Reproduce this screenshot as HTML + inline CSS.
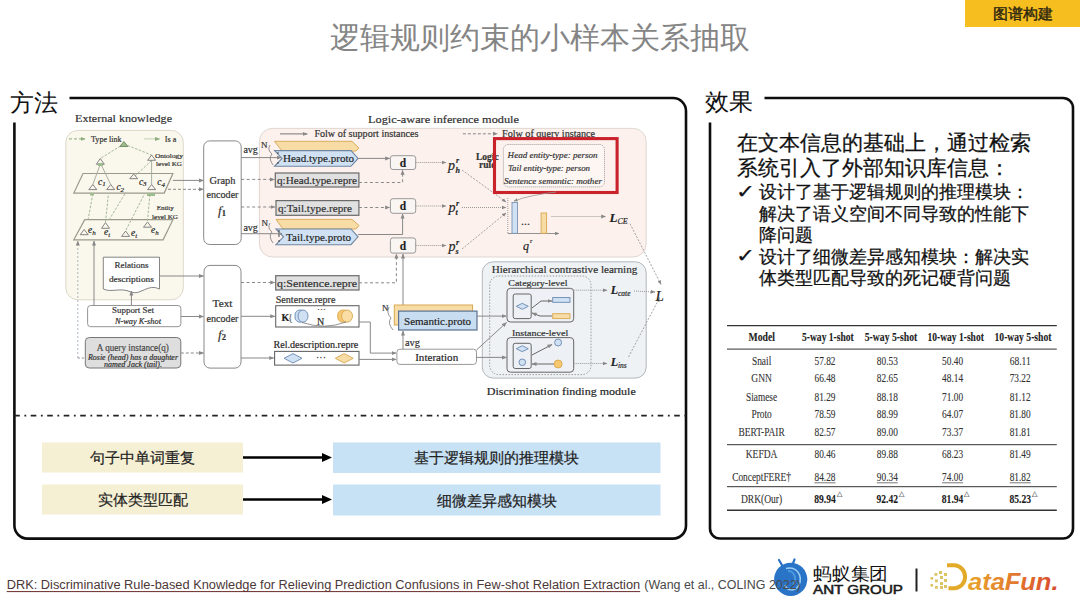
<!DOCTYPE html>
<html><head><meta charset="utf-8">
<style>
html,body{margin:0;padding:0;}
body{width:1080px;height:608px;overflow:hidden;background:#fff;position:relative;font-family:"Liberation Sans",sans-serif;}
.a{position:absolute;white-space:nowrap;}
#title{left:330px;top:20.5px;font-size:30px;line-height:34px;color:#858585;letter-spacing:0px;}
#tag{left:965.3px;top:0;width:115px;height:27.3px;background:#F6BE1E;}
#tagt{left:993px;top:4px;font-size:15px;line-height:20px;color:#2b2510;-webkit-text-stroke:0.4px #2b2510;}
.lbl{font-size:24px;line-height:28px;color:#111;}
.bx{position:absolute;text-align:center;font-size:15px;color:#222;-webkit-text-stroke:0.2px #222;}
.rt{font-size:21px;line-height:25.5px;color:#111;-webkit-text-stroke:0.25px #111;}
.rb{font-size:18px;line-height:21.5px;color:#111;-webkit-text-stroke:0.25px #111;}
.dg text{stroke:#2a2a2a;stroke-width:0.18px;}
.tb text{stroke:#2a2a2a;stroke-width:0.12px;}
</style></head><body>
<div id="title" class="a">逻辑规则约束的小样本关系抽取</div>
<div id="tag" class="a"></div>
<div id="tagt" class="a">图谱构建</div>

<svg class="a" style="left:0;top:0" width="1080" height="608" viewBox="0 0 1080 608">
 <g fill="none" stroke="#0d0d0d" stroke-width="2.6">
  <path d="M69.5 98 H673 A13 13 0 0 1 686 111 V525.5 A13 13 0 0 1 673 538.6 H27.5 A13 13 0 0 1 14.4 525.5 V122.5"/>
  <path d="M764.5 98 H1063 A10 10 0 0 1 1073 108 V528.5 A10 10 0 0 1 1063 538.5 H720 A10 10 0 0 1 710 528.5 V122.5"/>
 </g>
 <line x1="14.2" y1="415.6" x2="686" y2="415.6" stroke="#222" stroke-width="1.8" stroke-dasharray="5.6 4.6 1.8 4.5"/>
 <!-- bottom boxes -->
 <rect x="42" y="442.5" width="201" height="30" fill="#F5EFD3"/>
 <rect x="42" y="484.5" width="201" height="30" fill="#F5EFD3"/>
 <rect x="333" y="442.5" width="327.5" height="30.5" fill="#C7E1F5"/>
 <rect x="333" y="484.5" width="327.5" height="31" fill="#C7E1F5"/>
 <g stroke="#000" stroke-width="2.6">
  <line x1="243" y1="457.5" x2="324" y2="457.5"/>
  <line x1="243" y1="499.5" x2="324" y2="499.5"/>
 </g>
 <path d="M322 453 L332 457.5 L322 462 Z M322 495 L332 499.5 L322 504 Z" fill="#000"/>
</svg>


<svg class="a dg" style="left:0;top:0" width="1080" height="608" viewBox="0 0 1080 608" font-family="Liberation Serif, serif">
 <defs>
  <marker id="ah" viewBox="0 0 10 10" refX="9" refY="5" markerWidth="5" markerHeight="5" orient="auto"><path d="M0 1 L10 5 L0 9 Z" fill="#888"/></marker>
  <marker id="ahg" viewBox="0 0 10 10" refX="9" refY="5" markerWidth="5" markerHeight="5" orient="auto"><path d="M0 1 L10 5 L0 9 Z" fill="#8aab7a"/></marker>
 </defs>
 <!-- External knowledge -->
 <text x="75" y="122.3" font-size="11" fill="#333" textLength="97" lengthAdjust="spacingAndGlyphs">External knowledge</text>
 <rect x="65.8" y="130.4" width="117.5" height="169.4" rx="12" fill="#FAF7EC" stroke="#d9d4c4" stroke-width="0.9"/>
 <g stroke="#8aab7a" stroke-width="1" fill="none">
  <line x1="69" y1="138.9" x2="85" y2="138.9" stroke-dasharray="3 2" marker-end="url(#ahg)"/>
  <line x1="144.5" y1="138.9" x2="159.5" y2="138.9" stroke-dasharray="1 1" marker-end="url(#ahg)"/>
 </g>
 <text x="91" y="141.8" font-size="8" fill="#333" textLength="30.5" lengthAdjust="spacingAndGlyphs">Type link</text>
 <text x="164.8" y="141.8" font-size="8" fill="#333" textLength="11.5" lengthAdjust="spacingAndGlyphs">Is a</text>
 <text x="155" y="158" font-size="6.5" fill="#333" textLength="28" lengthAdjust="spacingAndGlyphs">Ontology</text>
 <text x="156" y="166" font-size="6.5" fill="#333" textLength="26" lengthAdjust="spacingAndGlyphs">level KG</text>
 <text x="156.7" y="209.9" font-size="6.5" fill="#333" textLength="17" lengthAdjust="spacingAndGlyphs">Entity</text>
 <text x="152" y="218.5" font-size="6.5" fill="#333" textLength="26" lengthAdjust="spacingAndGlyphs">level KG</text>
 <g fill="none" stroke="#9a9a8a" stroke-width="1.2">
  <path d="M83 173.5 H172.9 L164.2 193.1 H73.8 Z"/>
  <path d="M84.7 219.7 H172.9 L163.1 239.8 H73.8 Z"/>
 </g>
 <g fill="none" stroke="#a3b899" stroke-width="1" stroke-dasharray="2.5 1.5">
  <line x1="123.9" y1="144" x2="100.3" y2="158.5"/>
  <line x1="123.9" y1="144" x2="151.6" y2="155"/>
  <line x1="135" y1="176" x2="151" y2="161"/>
  <line x1="88" y1="220" x2="93" y2="193"/>
  <line x1="105.5" y1="222" x2="108.5" y2="193"/>
  <line x1="109" y1="220" x2="126" y2="192"/>
  <line x1="126" y1="230" x2="145" y2="193"/>
  <line x1="147.5" y1="221" x2="150" y2="193"/>
  <line x1="77.8" y1="358" x2="77.8" y2="241" stroke="#b0b8c4" stroke-dasharray="2 2" marker-end="url(#ah)"/>
 </g>
 <g fill="none" stroke="#a0a89a" stroke-width="0.9">
  <line x1="92.8" y1="184.5" x2="100.3" y2="164.3"/>
  <line x1="110.7" y1="184.5" x2="101" y2="164.3"/>
  <line x1="151.6" y1="184.5" x2="151.6" y2="160.3"/>
 </g>
 <g fill="none" stroke="#777" stroke-width="0.9">
  <path d="M119.9 146.5 L123.9 141.5 L127.9 146.5 Z" fill="#9dbb8f" stroke="#6d8a60"/>
  <path d="M96.3 164.3 L100.3 158.5 L104.3 164.3 Z"/>
  <path d="M147.6 160.3 L151.6 155 L155.6 160.3 Z"/>
  <path d="M88.8 189.6 L92.8 184.5 L96.8 189.6 Z"/>
  <path d="M106.7 189.6 L110.7 184.5 L114.7 189.6 Z"/>
  <path d="M129.7 178.7 L133.7 174 L137.7 178.7 Z"/>
  <path d="M147.6 189.6 L151.6 184.5 L155.6 189.6 Z"/>
  <path d="M80.2 234.7 L84.2 229.5 L88.2 234.7 Z"/>
  <path d="M101.5 228.3 L105.5 222.6 L109.5 228.3 Z"/>
  <path d="M121.6 236.4 L125.6 231 L129.6 236.4 Z"/>
  <path d="M143.5 227.2 L147.5 222 L151.5 227.2 Z"/>
 </g>
 <rect x="98" y="163" width="5" height="3" fill="#9dbb8f"/>
 <rect x="90" y="193" width="4" height="2.5" fill="#9dbb8f"/>
 <rect x="147" y="193" width="8" height="3" fill="#9dbb8f"/>
 <g font-size="9.5" font-style="italic" fill="#222">
  <text x="98" y="184.5">c<tspan font-size="7" dy="1.5">1</tspan></text>
  <text x="116.4" y="190">c<tspan font-size="7" dy="1.5">2</tspan></text>
  <text x="138.9" y="184.5">c<tspan font-size="7" dy="1.5">3</tspan></text>
  <text x="157.3" y="185">c<tspan font-size="7" dy="1.5">4</tspan></text>
  <text x="88" y="233">e<tspan font-size="7" dy="1.5">h</tspan></text>
  <text x="104" y="235">e<tspan font-size="7" dy="1.5">t</tspan></text>
  <text x="131" y="236">e<tspan font-size="7" dy="1.5">t</tspan></text>
  <text x="151" y="233">e<tspan font-size="7" dy="1.5">h</tspan></text>
 </g>
 <!-- relations descriptions -->
 <path d="M103.3 257.2 H159.5 V289 C148 283 140 296 131 292 C120 287 112 293 103.3 289 Z" fill="#fff" stroke="#777" stroke-width="0.9"/>
 <text x="131.4" y="268" font-size="8.5" fill="#333" text-anchor="middle" textLength="34" lengthAdjust="spacingAndGlyphs">Relations</text>
 <text x="131.4" y="282" font-size="8.5" fill="#333" text-anchor="middle" textLength="45" lengthAdjust="spacingAndGlyphs">descriptions</text>
 <!-- support set -->
 <rect x="87.6" y="305.5" width="93.3" height="21.2" rx="3" fill="#fff" stroke="#888" stroke-width="0.9"/>
 <text x="133" y="313" font-size="9" fill="#333" text-anchor="middle" textLength="42" lengthAdjust="spacingAndGlyphs">Support Set</text>
 <text x="138" y="323.5" font-size="7.5" font-style="italic" fill="#333" text-anchor="middle" textLength="46" lengthAdjust="spacingAndGlyphs">N-way K-shot</text>
 <!-- query -->
 <rect x="85.3" y="337.5" width="95.5" height="30.5" rx="4" fill="#dedede" stroke="#777" stroke-width="1"/>
 <text x="132.8" y="351" font-size="9.5" fill="#555" text-anchor="middle" textLength="72" lengthAdjust="spacingAndGlyphs">A query instance(q)</text>
 <text x="133" y="359.8" font-size="7.5" font-style="italic" fill="#333" text-anchor="middle" textLength="90" lengthAdjust="spacingAndGlyphs">Rosie (head) has a daughter</text>
 <text x="133" y="367" font-size="7.5" font-style="italic" fill="#333" text-anchor="middle" textLength="58" lengthAdjust="spacingAndGlyphs">named Jack (tail).</text>
 <g fill="none" stroke="#888" stroke-width="1">
  <line x1="94" y1="305.5" x2="94" y2="241" marker-end="url(#ah)"/>
  <line x1="131.4" y1="305.5" x2="131.4" y2="291" marker-end="url(#ah)"/>
  <line x1="172.9" y1="180.4" x2="203.5" y2="180.4" marker-end="url(#ah)"/>
  <line x1="168" y1="189.3" x2="203.5" y2="189.3" stroke-dasharray="3 2" marker-end="url(#ah)"/>
  <line x1="159.5" y1="276" x2="203.5" y2="276" marker-end="url(#ah)"/>
  <line x1="180.9" y1="316.5" x2="203.5" y2="316.5" marker-end="url(#ah)"/>
  <line x1="180.8" y1="353" x2="203.5" y2="353" stroke-dasharray="3 2" marker-end="url(#ah)"/>
  <line x1="77.8" y1="358" x2="85" y2="358" stroke-dasharray="2 2"/>
 </g>
 <!-- encoders -->
 <rect x="203.7" y="140.9" width="37.5" height="103.6" rx="6" fill="#fff" stroke="#888" stroke-width="1"/>
 <text x="222.5" y="184" font-size="9.5" fill="#333" text-anchor="middle" textLength="26" lengthAdjust="spacingAndGlyphs">Graph</text>
 <text x="222.5" y="198" font-size="9.5" fill="#333" text-anchor="middle" textLength="32" lengthAdjust="spacingAndGlyphs">encoder</text>
 <text x="218" y="214.5" font-size="13" font-style="italic" fill="#333">f<tspan font-size="8.5" dy="1.5" font-style="normal" font-weight="bold">1</tspan></text>
 <rect x="204" y="265.4" width="37" height="102.7" rx="6" fill="#fff" stroke="#888" stroke-width="1"/>
 <text x="222.5" y="307" font-size="9.5" fill="#333" text-anchor="middle" textLength="20" lengthAdjust="spacingAndGlyphs">Text</text>
 <text x="222.5" y="322" font-size="9.5" fill="#333" text-anchor="middle" textLength="32" lengthAdjust="spacingAndGlyphs">encoder</text>
 <text x="218" y="338.5" font-size="13" font-style="italic" fill="#333">f<tspan font-size="8.5" dy="1.5" font-style="normal" font-weight="bold">2</tspan></text>

 <!-- Logic-aware inference module -->
 <text x="368" y="122.5" font-size="10.5" fill="#333" textLength="151" lengthAdjust="spacingAndGlyphs">Logic-aware inference module</text>
 <rect x="259.4" y="128.4" width="386.8" height="128.6" rx="13" fill="#FCF1ED" stroke="#ddd2cc" stroke-width="0.9"/>
 <line x1="280" y1="133.9" x2="307.3" y2="133.9" stroke="#777" stroke-width="1" marker-end="url(#ah)"/>
 <text x="314.4" y="137" font-size="9.5" fill="#333" textLength="104" lengthAdjust="spacingAndGlyphs">Folw of support instances</text>
 <line x1="462.9" y1="133.8" x2="497.4" y2="133.8" stroke="#888" stroke-width="1" stroke-dasharray="3 2" marker-end="url(#ah)"/>
 <text x="502" y="137" font-size="9.5" fill="#333" textLength="93" lengthAdjust="spacingAndGlyphs">Folw of query instance</text>
 <!-- chevrons -->
 <path d="M274.5 141.3 H352 L359 148 L356 151 H282 Z" fill="#F7DCA6" stroke="#D9AE5E" stroke-width="1"/>
 <path d="M274.5 150.6 H351 L358.1 158.4 L351 166.3 H274.5 L282 158.4 Z" fill="#CFE1F3" stroke="#6F86A2" stroke-width="1.1"/>
 <text x="283" y="162" font-size="10.5" fill="#222" textLength="71" lengthAdjust="spacingAndGlyphs">Head.type.proto</text>
 <path d="M276 219.4 H352 L359 225.5 L356 229 H283 Z" fill="#F7DCA6" stroke="#D9AE5E" stroke-width="1"/>
 <path d="M276 229 H351 L358 236.8 L351 244.7 H276 L283.5 236.8 Z" fill="#CFE1F3" stroke="#6F86A2" stroke-width="1.1"/>
 <text x="286" y="240.5" font-size="10.5" fill="#222" textLength="65" lengthAdjust="spacingAndGlyphs">Tail.type.proto</text>
 <g font-size="9" fill="#333">
  <text x="261" y="148">N</text>
  <text x="261.5" y="226">N</text>
  <text x="382" y="311">N</text>
 </g>
 <g fill="none" stroke="#777" stroke-width="0.8">
  <path d="M270 145 Q267 150 272 154 Q268 158 273 165"/>
  <path d="M270 223 Q267 228 272 232 Q268 236 273 243"/>
  <path d="M389 307 Q386 313 391 318 Q387 323 393 330"/>
 </g>
 <g fill="#333"><circle cx="278" cy="153" r="0.8"/><circle cx="278" cy="158" r="0.8"/><circle cx="278" cy="163" r="0.8"/>
 <circle cx="279" cy="231" r="0.8"/><circle cx="279" cy="236" r="0.8"/><circle cx="279" cy="241" r="0.8"/></g>
 <!-- gray repre boxes -->
 <rect x="275.3" y="173" width="83.6" height="14" fill="#E0E0E0" stroke="#6a6a6a" stroke-width="1.2"/>
 <text x="277" y="184.3" font-size="10.5" fill="#333" textLength="80" lengthAdjust="spacingAndGlyphs">q:Head.type.repre</text>
 <rect x="276" y="200.6" width="82.9" height="14.7" fill="#E0E0E0" stroke="#6a6a6a" stroke-width="1.2"/>
 <text x="278" y="212.2" font-size="10.5" fill="#333" textLength="74" lengthAdjust="spacingAndGlyphs">q:Tail.type.repre</text>
 <rect x="275.7" y="275.7" width="83.3" height="14.3" fill="#E0E0E0" stroke="#6a6a6a" stroke-width="1.2"/>
 <text x="277" y="287.3" font-size="10.5" fill="#333" textLength="80" lengthAdjust="spacingAndGlyphs">q:Sentence.repre</text>
 <!-- avg arrows -->
 <g fill="none" stroke="#888" stroke-width="1">
  <line x1="241.2" y1="157.6" x2="281" y2="157.6" marker-end="url(#ah)"/>
  <line x1="241.2" y1="179.4" x2="274.5" y2="179.4" stroke-dasharray="3 2.5" marker-end="url(#ah)"/>
  <line x1="241.2" y1="207" x2="275" y2="207" stroke-dasharray="3 2.5" marker-end="url(#ah)"/>
  <line x1="241.2" y1="233.7" x2="282" y2="233.7" marker-end="url(#ah)"/>
  <line x1="241" y1="282.5" x2="274.8" y2="282.5" stroke-dasharray="3 2.5" marker-end="url(#ah)"/>
  <line x1="241" y1="316.3" x2="274.8" y2="316.3" marker-end="url(#ah)"/>
  <line x1="241" y1="358" x2="273.8" y2="358" marker-end="url(#ah)"/>
  <line x1="358.1" y1="158.4" x2="389.6" y2="158.4" marker-end="url(#ah)"/>
  <path d="M358.9 182.5 H402.6 V170.3" stroke-dasharray="3 2.5" marker-end="url(#ah)"/>
  <line x1="358.9" y1="207.5" x2="389.6" y2="207.5" stroke-dasharray="3 2.5" marker-end="url(#ah)"/>
  <path d="M358 234.5 H402.6 V214" marker-end="url(#ah)"/>
  <path d="M359 282.8 H396.4 V254" stroke-dasharray="3 2.5" marker-end="url(#ah)"/>
  <line x1="403" y1="305" x2="403" y2="254" marker-end="url(#ah)"/>
 </g>
 <g font-size="9.5" fill="#333">
  <text x="243.4" y="153.3" textLength="14.5" lengthAdjust="spacingAndGlyphs">avg</text>
  <text x="243.4" y="231" textLength="14.5" lengthAdjust="spacingAndGlyphs">avg</text>
  <text x="405" y="345.5" textLength="15" lengthAdjust="spacingAndGlyphs">avg</text>
 </g>
 <!-- d boxes -->
 <g fill="#f9f5f3" stroke="#999" stroke-width="1">
  <rect x="390.4" y="155.7" width="25.3" height="13.8" rx="2.5"/>
  <rect x="390.4" y="198.7" width="25.3" height="14.6" rx="2.5"/>
  <rect x="390.4" y="237.9" width="25.3" height="15.2" rx="2.5"/>
 </g>
 <g font-size="11.5" font-weight="bold" fill="#222" text-anchor="middle">
  <text x="403" y="166.5">d</text><text x="403" y="210">d</text><text x="403" y="249.5">d</text>
 </g>
 <g fill="none" stroke="#999" stroke-width="1" stroke-dasharray="1 1">
  <line x1="415.7" y1="162.5" x2="446" y2="162.5" marker-end="url(#ah)"/>
  <line x1="415.7" y1="206" x2="446" y2="206" marker-end="url(#ah)"/>
  <line x1="415.7" y1="245.5" x2="446" y2="245.5" marker-end="url(#ah)"/>
  <line x1="462" y1="207.5" x2="506" y2="207.5" marker-end="url(#ah)"/>
 </g>
 <g fill="none" stroke="#999" stroke-width="0.9" stroke-dasharray="2 1.5">
  <line x1="462" y1="170" x2="506" y2="202" marker-end="url(#ah)"/>
  <line x1="462" y1="249" x2="506" y2="213" marker-end="url(#ah)"/>
 </g>
 <g font-size="14" font-style="italic" fill="#222">
  <text x="448" y="169.5">p</text><text x="448.6" y="212">p</text><text x="448.6" y="251">p</text>
 </g>
 <g font-size="8" font-style="italic" font-weight="bold" fill="#222">
  <text x="456" y="163">r</text><text x="455.5" y="172.5">h</text>
  <text x="456" y="206">r</text><text x="455.5" y="215">t</text>
  <text x="456" y="245">r</text><text x="455.5" y="254">s</text>
 </g>
 <text x="476" y="159.7" font-size="9.5" font-weight="bold" fill="#333">Logic</text>
 <text x="479" y="167.6" font-size="9.5" font-weight="bold" fill="#333">rule</text>
 <rect x="503.4" y="144.5" width="101.1" height="42.4" rx="5" fill="#fdf6f3" stroke="#888" stroke-width="0.8" stroke-dasharray="1 1"/>
 <g font-size="9" font-style="italic" fill="#333">
  <text x="507.6" y="157.8" textLength="90" lengthAdjust="spacingAndGlyphs">Head entity-type: person</text>
  <text x="508" y="170.6" textLength="82" lengthAdjust="spacingAndGlyphs">Tail entity-type: person</text>
  <text x="504" y="183.6" textLength="98" lengthAdjust="spacingAndGlyphs">Sentence semantic: mother</text>
 </g>
 <rect x="494.5" y="138.6" width="122.6" height="53.9" fill="none" stroke="#C9222B" stroke-width="3.1"/>
 <path d="M556 192 Q530 195 514 201" fill="none" stroke="#999" stroke-width="0.8" marker-end="url(#ah)"/>
 <!-- bars -->
 <line x1="507.8" y1="198" x2="507.8" y2="233.5" stroke="#888" stroke-width="0.8" stroke-dasharray="1 1"/>
 <line x1="507.8" y1="233.5" x2="559" y2="233.5" stroke="#888" stroke-width="0.9" marker-end="url(#ah)"/>
 <rect x="512" y="202.5" width="5.5" height="30.8" fill="#CFE1F3" stroke="#7a93b3" stroke-width="0.9"/>
 <rect x="541.1" y="213" width="5.5" height="20.3" fill="#F7DCA6" stroke="#d7a850" stroke-width="0.9"/>
 <text x="521" y="225" font-size="12" fill="#333">...</text>
 <text x="523" y="250" font-size="12" font-style="italic" fill="#222">q</text><text x="530" y="243" font-size="6.5" fill="#222">r</text>
 <line x1="551.5" y1="216.5" x2="605.7" y2="216.5" stroke="#999" stroke-width="1" stroke-dasharray="1 1" marker-end="url(#ah)"/>
 <text x="609.4" y="222" font-size="13" font-style="italic" font-weight="bold" fill="#222">L</text>
 <text x="617.5" y="224" font-size="8" font-style="italic" fill="#222">CE</text>
 <line x1="630" y1="223.7" x2="661" y2="284.4" stroke="#999" stroke-width="0.9" stroke-dasharray="2 1.5" marker-end="url(#ah)"/>
 <!-- Hierarchical contrastive learning -->
 <rect x="482.3" y="261.8" width="163.9" height="116.3" rx="11" fill="#EEF2F5" stroke="#aab0b6" stroke-width="0.9"/>
 <text x="491.7" y="273" font-size="10" fill="#333" textLength="145.6" lengthAdjust="spacingAndGlyphs">Hierarchical contrastive learning</text>
 <rect x="489.7" y="276" width="101.3" height="98.6" rx="9" fill="none" stroke="#888" stroke-width="0.8" stroke-dasharray="1.5 1.5"/>
 <text x="508.3" y="285.5" font-size="9" fill="#333" textLength="59.2" lengthAdjust="spacingAndGlyphs">Category-level</text>
 <text x="512" y="336" font-size="9" fill="#333" textLength="56.2" lengthAdjust="spacingAndGlyphs">Instance-level</text>
 <g fill="#EDF1F5" stroke="#666" stroke-width="1">
  <rect x="507" y="288.3" width="66.7" height="33.7" rx="3.5"/>
  <rect x="507" y="337.6" width="66.7" height="34.6" rx="3.5"/>
  <rect x="513.2" y="294" width="18" height="24.6" rx="2"/>
  <rect x="513.2" y="343.3" width="18" height="25.2" rx="2"/>
 </g>
 <g stroke-width="0.9">
  <path d="M516.3 306.3 L522.3 303.3 L528.3 306.3 L522.3 309.3 Z" fill="#CFE1F3" stroke="#6a88b0"/>
  <path d="M516.3 348.7 L522.3 345.7 L528.3 348.7 L522.3 351.7 Z" fill="#CFE1F3" stroke="#6a88b0"/>
  <circle cx="522.3" cy="362.3" r="3.3" fill="#CFE1F3" stroke="#6a88b0"/>
  <rect x="552.7" y="297.6" width="17.3" height="4.7" fill="#CFE1F3" stroke="#6a88b0"/>
  <rect x="552.7" y="313.7" width="17.3" height="4.9" fill="#F7DCA6" stroke="#d7a850"/>
  <circle cx="558.1" cy="342.5" r="3.5" fill="#CFE1F3" stroke="#6a88b0"/>
  <circle cx="558.1" cy="364" r="4" fill="#F7C870" stroke="#d7a850"/>
 </g>
 <g fill="none" stroke="#666" stroke-width="1">
  <path d="M532 308 L541 301 H552" marker-end="url(#ah)"/>
  <path d="M552 316 H540 L532 313" marker-end="url(#ah)"/>
  <path d="M532 355 L552 344.5" marker-end="url(#ah)"/>
  <path d="M554 364 H532" marker-end="url(#ah)"/>
 </g>
 <g fill="none" stroke="#999" stroke-width="1" stroke-dasharray="1 1">
  <line x1="573.7" y1="290.2" x2="607" y2="290.2" marker-end="url(#ah)"/>
  <line x1="573.7" y1="363.5" x2="607" y2="363.5" marker-end="url(#ah)"/>
  <line x1="634" y1="291" x2="655" y2="292" marker-end="url(#ah)"/>
 </g>
 <line x1="628.5" y1="357" x2="659.6" y2="297.7" stroke="#999" stroke-width="0.9" stroke-dasharray="2 1.5" marker-end="url(#ah)"/>
 <text x="610.7" y="294" font-size="12" font-style="italic" font-weight="bold" fill="#222">L</text>
 <text x="618" y="296" font-size="7.5" font-style="italic" fill="#222">cate</text>
 <text x="610.7" y="366" font-size="12" font-style="italic" font-weight="bold" fill="#222">L</text>
 <text x="618" y="368" font-size="7.5" font-style="italic" fill="#222">ins</text>
 <text x="655.5" y="300.5" font-size="15" font-style="italic" fill="#222">L</text>
 <text x="486.8" y="394.5" font-size="11" fill="#222" textLength="149" lengthAdjust="spacingAndGlyphs">Discrimination finding module</text>
 <!-- sentence repre etc -->
 <text x="275.7" y="303" font-size="9.5" fill="#333" textLength="59.8" lengthAdjust="spacingAndGlyphs">Sentence.repre</text>
 <rect x="275.7" y="305.7" width="83.3" height="21.3" fill="#fff" stroke="#666" stroke-width="1.1"/>
 <text x="281.5" y="320.5" font-size="10" font-weight="bold" fill="#222">K</text>
 <text x="288" y="320.5" font-size="10" fill="#888">{</text>
 <g stroke-width="0.9">
  <rect x="295" y="310" width="10" height="12.2" rx="5" fill="#CFE1F3" stroke="#6a88b0"/>
  <ellipse cx="303" cy="316.1" rx="5" ry="6.1" fill="#CFE1F3" stroke="#6a88b0"/>
  <rect x="337.7" y="310" width="11" height="12.2" rx="5" fill="#F7C870" stroke="#d7a850"/>
  <ellipse cx="347" cy="316.1" rx="5.5" ry="6.1" fill="#F9DDA5" stroke="#d7a850"/>
 </g>
 <path d="M302 322.5 Q325 330 346 322" fill="none" stroke="#777" stroke-width="0.8"/>
 <text x="317" y="312" font-size="9" fill="#333">···</text>
 <text x="317" y="325" font-size="10" fill="#222">N</text>
 <text x="273.5" y="347.5" font-size="10.5" fill="#222" stroke="#222" stroke-width="0.25" textLength="84.8" lengthAdjust="spacingAndGlyphs">Rel.description.repre</text>
 <rect x="274.6" y="351.4" width="84.4" height="13.7" fill="#fff" stroke="#666" stroke-width="1.1"/>
 <path d="M284 358.3 L293 353.6 L302 358.3 L293 363 Z" fill="#CFE1F3" stroke="#6a88b0" stroke-width="0.9"/>
 <path d="M335.2 358.3 L344.2 353.6 L353.2 358.3 L344.2 363 Z" fill="#F7DCA6" stroke="#d7a850" stroke-width="0.9"/>
 <text x="316" y="361" font-size="10" fill="#333">···</text>
 <!-- semantic proto / interation -->
 <rect x="394.3" y="305" width="78.3" height="20" fill="#F7DCA6" stroke="#d7a850" stroke-width="1"/>
 <rect x="398.6" y="311.1" width="78.4" height="18.9" fill="#C9DDF0" stroke="#5a7090" stroke-width="1.2"/>
 <text x="404" y="324.5" font-size="10.5" fill="#222" textLength="67" lengthAdjust="spacingAndGlyphs">Semantic.proto</text>
 <rect x="396.9" y="349.2" width="79.6" height="15.2" rx="3" fill="#fff" stroke="#999" stroke-width="1"/>
 <text x="436.7" y="361" font-size="10.5" fill="#222" text-anchor="middle" textLength="43" lengthAdjust="spacingAndGlyphs">Interation</text>
 <g fill="none" stroke="#888" stroke-width="1">
  <path d="M359 322 H370.3 V353.1 H396" marker-end="url(#ah)"/>
  <line x1="359" y1="359.4" x2="396" y2="359.4" marker-end="url(#ah)"/>
  <line x1="403" y1="349.2" x2="403" y2="331" marker-end="url(#ah)"/>
  <line x1="477" y1="316.1" x2="506" y2="316.1" marker-end="url(#ah)"/>
  <line x1="476.5" y1="350" x2="506.5" y2="322.5" marker-end="url(#ah)"/>
  <line x1="476.5" y1="357.4" x2="506.5" y2="357.4" marker-end="url(#ah)"/>
 </g>
</svg>
<div class="a lbl" style="left:10px;top:89px;">方法</div>
<div class="a lbl" style="left:705px;top:88px;">效果</div>

<div class="bx" style="left:42px;top:442.5px;width:201px;line-height:30px;">句子中单词重复</div>
<div class="bx" style="left:42px;top:484.5px;width:201px;line-height:30px;">实体类型匹配</div>
<div class="bx" style="left:333px;top:442.5px;width:327.5px;line-height:30.5px;">基于逻辑规则的推理模块</div>
<div class="bx" style="left:333px;top:484.5px;width:327.5px;line-height:31px;">细微差异感知模块</div>

<div class="a rt" style="left:737px;top:129.5px;">在文本信息的基础上，通过检索<br>系统引入了外部知识库信息：</div>
<div class="a rb" style="left:736px;top:181px;font-size:19px;transform:scaleX(1.2);transform-origin:0 0;">✓</div>
<div class="a rb" style="left:759px;top:182px;">设计了基于逻辑规则的推理模块：<br>解决了语义空间不同导致的性能下<br>降问题</div>
<div class="a rb" style="left:736px;top:245px;font-size:19px;transform:scaleX(1.2);transform-origin:0 0;">✓</div>
<div class="a rb" style="left:759px;top:246.5px;">设计了细微差异感知模块：解决实<br>体类型匹配导致的死记硬背问题</div>


<svg class="a tb" style="left:0;top:0" width="1080" height="608" viewBox="0 0 1080 608" font-family="Liberation Serif, serif">
 <g stroke="#333" fill="none">
  <line x1="727" y1="325.6" x2="1056.8" y2="325.6" stroke-width="1.4"/>
  <line x1="727" y1="349.1" x2="1056.8" y2="349.1" stroke-width="1"/>
  <line x1="727" y1="444.7" x2="1056.8" y2="444.7" stroke-width="1"/>
  <line x1="727" y1="486.7" x2="1056.8" y2="486.7" stroke-width="1"/>
  <line x1="727" y1="510.3" x2="1056.8" y2="510.3" stroke-width="1.4"/>
 </g>
 <g font-size="13" font-weight="bold" fill="#222" text-anchor="middle">
  <text x="761.7" y="341.4" textLength="26.4" lengthAdjust="spacingAndGlyphs">Model</text>
  <text x="827.9" y="341.4" textLength="51.8" lengthAdjust="spacingAndGlyphs">5-way 1-shot</text>
  <text x="891" y="341.4" textLength="52.5" lengthAdjust="spacingAndGlyphs">5-way 5-shot</text>
  <text x="955.7" y="341.4" textLength="56.3" lengthAdjust="spacingAndGlyphs">10-way 1-shot</text>
  <text x="1023" y="341.4" textLength="57" lengthAdjust="spacingAndGlyphs">10-way 5-shot</text>
 </g>
 <g font-size="13" fill="#333" text-anchor="middle">
  <text x="761.6" y="364.6" textLength="19.3" lengthAdjust="spacingAndGlyphs">Snail</text>
  <text x="825" y="364.6" textLength="21" lengthAdjust="spacingAndGlyphs">57.82</text>
  <text x="887.3" y="364.6" textLength="21" lengthAdjust="spacingAndGlyphs">80.53</text>
  <text x="952.6" y="364.6" textLength="21" lengthAdjust="spacingAndGlyphs">50.40</text>
  <text x="1020.2" y="364.6" textLength="21" lengthAdjust="spacingAndGlyphs">68.11</text>
  <text x="761.6" y="382.4" textLength="20.5" lengthAdjust="spacingAndGlyphs">GNN</text>
  <text x="825" y="382.4" textLength="21" lengthAdjust="spacingAndGlyphs">66.48</text>
  <text x="887.3" y="382.4" textLength="21" lengthAdjust="spacingAndGlyphs">82.65</text>
  <text x="952.6" y="382.4" textLength="21" lengthAdjust="spacingAndGlyphs">48.14</text>
  <text x="1020.2" y="382.4" textLength="21" lengthAdjust="spacingAndGlyphs">73.22</text>
  <text x="761.6" y="400.5" textLength="31" lengthAdjust="spacingAndGlyphs">Siamese</text>
  <text x="825" y="400.5" textLength="21" lengthAdjust="spacingAndGlyphs">81.29</text>
  <text x="887.3" y="400.5" textLength="21" lengthAdjust="spacingAndGlyphs">88.18</text>
  <text x="952.6" y="400.5" textLength="21" lengthAdjust="spacingAndGlyphs">71.00</text>
  <text x="1020.2" y="400.5" textLength="21" lengthAdjust="spacingAndGlyphs">81.12</text>
  <text x="761.6" y="417.8" textLength="20.4" lengthAdjust="spacingAndGlyphs">Proto</text>
  <text x="825" y="417.8" textLength="21" lengthAdjust="spacingAndGlyphs">78.59</text>
  <text x="887.3" y="417.8" textLength="21" lengthAdjust="spacingAndGlyphs">88.99</text>
  <text x="952.6" y="417.8" textLength="21" lengthAdjust="spacingAndGlyphs">64.07</text>
  <text x="1020.2" y="417.8" textLength="21" lengthAdjust="spacingAndGlyphs">81.80</text>
  <text x="761.6" y="435.8" textLength="46.4" lengthAdjust="spacingAndGlyphs">BERT-PAIR</text>
  <text x="825" y="435.8" textLength="21" lengthAdjust="spacingAndGlyphs">82.57</text>
  <text x="887.3" y="435.8" textLength="21" lengthAdjust="spacingAndGlyphs">89.00</text>
  <text x="952.6" y="435.8" textLength="21" lengthAdjust="spacingAndGlyphs">73.37</text>
  <text x="1020.2" y="435.8" textLength="21" lengthAdjust="spacingAndGlyphs">81.81</text>
  <text x="761.6" y="457.5" textLength="31.7" lengthAdjust="spacingAndGlyphs">KEFDA</text>
  <text x="825" y="457.5" textLength="21" lengthAdjust="spacingAndGlyphs">80.46</text>
  <text x="887.3" y="457.5" textLength="21" lengthAdjust="spacingAndGlyphs">89.88</text>
  <text x="952.6" y="457.5" textLength="21" lengthAdjust="spacingAndGlyphs">68.23</text>
  <text x="1020.2" y="457.5" textLength="21" lengthAdjust="spacingAndGlyphs">81.49</text>
  <text x="761.6" y="480.8" textLength="58.8" lengthAdjust="spacingAndGlyphs">ConceptFERE†</text>
  <text x="825" y="480.8" textLength="21" lengthAdjust="spacingAndGlyphs">84.28</text>
  <text x="887.3" y="480.8" textLength="21" lengthAdjust="spacingAndGlyphs">90.34</text>
  <text x="952.6" y="480.8" textLength="21" lengthAdjust="spacingAndGlyphs">74.00</text>
  <text x="1020.2" y="480.8" textLength="21" lengthAdjust="spacingAndGlyphs">81.82</text>
 </g>
<g stroke="#555" stroke-width="0.8"><line x1="814.5" y1="482.8" x2="835.5" y2="482.8"/><line x1="876.8" y1="482.8" x2="897.8" y2="482.8"/><line x1="942.1" y1="482.8" x2="963.1" y2="482.8"/><line x1="1009.7" y1="482.8" x2="1030.7" y2="482.8"/></g>
<text x="761.6" y="502.5" font-size="13" fill="#333" text-anchor="middle" textLength="41.2" lengthAdjust="spacingAndGlyphs">DRK(Our)</text>
<text x="825" y="502.5" font-size="13" font-weight="bold" fill="#1a1a1a" text-anchor="middle" textLength="21.5" lengthAdjust="spacingAndGlyphs">89.94</text><text x="836.5" y="496" font-size="6.5" fill="#888">△</text>
<text x="887.3" y="502.5" font-size="13" font-weight="bold" fill="#1a1a1a" text-anchor="middle" textLength="21.5" lengthAdjust="spacingAndGlyphs">92.42</text><text x="898.8" y="496" font-size="6.5" fill="#888">△</text>
<text x="952.6" y="502.5" font-size="13" font-weight="bold" fill="#1a1a1a" text-anchor="middle" textLength="21.5" lengthAdjust="spacingAndGlyphs">81.94</text><text x="964.1" y="496" font-size="6.5" fill="#888">△</text>
<text x="1020.2" y="502.5" font-size="13" font-weight="bold" fill="#1a1a1a" text-anchor="middle" textLength="21.5" lengthAdjust="spacingAndGlyphs">85.23</text><text x="1031.7" y="496" font-size="6.5" fill="#888">△</text>
</svg>

<svg class="a" style="left:0;top:0" width="1080" height="608" viewBox="0 0 1080 608">
 <text x="6.7" y="589.2" font-family="Liberation Sans, sans-serif" font-size="12.3" fill="#4d3838" textLength="633.5" lengthAdjust="spacingAndGlyphs">DRK: Discriminative Rule-based Knowledge for Relieving Prediction Confusions in Few-shot Relation Extraction</text>
 <line x1="6.7" y1="591.6" x2="640.2" y2="591.6" stroke="#6a2a2a" stroke-width="1"/>
 <!-- ant logo -->
 <g>
  <path d="M779 560 L782.5 566 M794.5 559.5 L792 566" stroke="#2B72C4" stroke-width="2.2" stroke-linecap="round" fill="none"/>
  <circle cx="790.7" cy="579.3" r="16.6" fill="#2A74C8"/>
  <path d="M786 568.5 C797 566 803 576 799 585 C795 592 787 591 785 585" fill="none" stroke="#9FD0F2" stroke-width="1.5"/>
  <path d="M788 571 C795 571 797 580 793 585" fill="none" stroke="#4C98DE" stroke-width="2"/>
 </g>
 <text x="644.3" y="589.2" font-family="Liberation Sans, sans-serif" font-size="12.3" fill="#484848" textLength="156.4" lengthAdjust="spacingAndGlyphs">(Wang et al., COLING 2022)</text>
 <text x="813" y="580" font-family="Liberation Sans, sans-serif" font-size="17.5" fill="#111" textLength="75" lengthAdjust="spacingAndGlyphs">蚂蚁集团</text>
 <text x="813" y="594.4" font-family="Liberation Sans, sans-serif" font-size="13.2" fill="#1a1a1a" stroke="#1a1a1a" stroke-width="0.55" textLength="90" lengthAdjust="spacingAndGlyphs">ANT GROUP</text>
 <rect x="915.5" y="568.5" width="2" height="23" fill="#222"/>
 <defs><linearGradient id="dfg" x1="0" x2="1" y1="0" y2="0"><stop offset="0" stop-color="#E8A52C"/><stop offset="0.5" stop-color="#E27A2E"/><stop offset="1" stop-color="#D9482E"/></linearGradient></defs>
 <g fill="#DCC466">
  <rect x="930.5" y="577" width="2.6" height="2.6"/><rect x="934.5" y="573" width="2.8" height="2.8"/><rect x="939" y="571" width="3" height="3"/>
  <rect x="935" y="579.5" width="2.8" height="2.8"/><rect x="940" y="576" width="3" height="3"/><rect x="944" y="573" width="3" height="3"/>
  <rect x="930.5" y="584" width="2.6" height="2.6"/><rect x="935" y="586" width="2.8" height="2.8"/><rect x="940" y="582" width="3" height="3"/>
  <rect x="944" y="579" width="3" height="3"/><rect x="940" y="586" width="3" height="3"/><rect x="944" y="585" width="3" height="3"/>
 </g>
 <path d="M947 565.3 H955 A11.6 11.6 0 0 1 955 588.3 H948.5" fill="none" stroke="#E3AA2A" stroke-width="4"/>
 <text x="968" y="590.4" font-family="Liberation Sans, sans-serif" font-size="24.5" font-weight="bold" font-style="italic" fill="url(#dfg)" textLength="90.5" lengthAdjust="spacingAndGlyphs">ataFun.</text>
</svg>
</body></html>
